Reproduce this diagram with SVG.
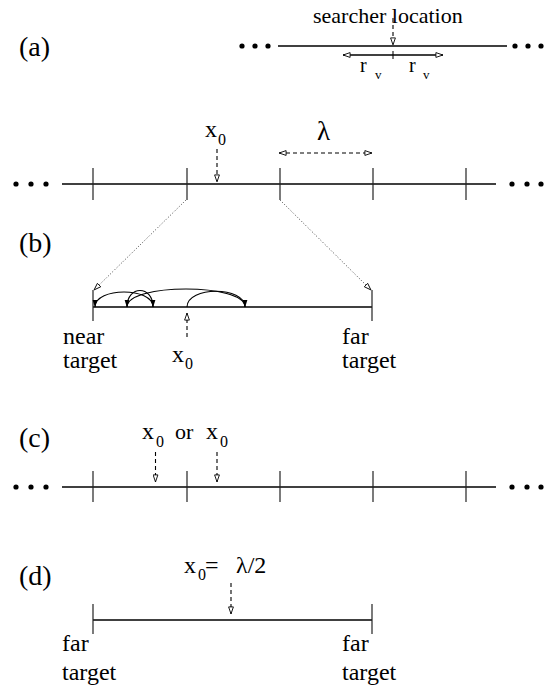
<svg xmlns="http://www.w3.org/2000/svg" width="544" height="685" viewBox="0 0 544 685">
<style>
text{fill:#000;font-family:Liberation Serif,Tinos,DejaVu Serif,Noto Serif,Times,serif}
.lab{font-size:28px}
.big{font-size:24px}
.x{font-size:24px}
.sub{font-size:16px}
.ln{stroke:#000;stroke-width:1.3;fill:none}
.tk{stroke:#222;stroke-width:1.2;fill:none}
.da{stroke:#000;stroke-width:1.1;stroke-dasharray:4 3;fill:none}
.dot{stroke:#444;stroke-width:1;stroke-dasharray:1 2;fill:none}
.arc{stroke:#000;stroke-width:1.1;fill:none}
.d{fill:#000}
</style>
<defs>
<marker id="open" viewBox="0 0 8 6" refX="7.6" refY="3" markerWidth="8" markerHeight="6" markerUnits="userSpaceOnUse" orient="auto-start-reverse">
<path d="M0.5,0.6 L7.5,3 L0.5,5.4 z" fill="#fff" stroke="#000" stroke-width="0.9"/>
</marker>
<marker id="fill" viewBox="0 0 8 6" refX="7.5" refY="3" markerWidth="8" markerHeight="6" markerUnits="userSpaceOnUse" orient="auto">
<path d="M0,0.5 L8,3 L0,5.5 z" fill="#000"/>
</marker>
</defs>

<g id="panel-a">
<text class="lab" x="19" y="56">(a)</text>
<circle class="d" cx="242" cy="46" r="2.6"/><circle class="d" cx="255" cy="46" r="2.6"/><circle class="d" cx="268" cy="46" r="2.6"/>
<circle class="d" cx="515" cy="46" r="2.6"/><circle class="d" cx="528" cy="46" r="2.6"/><circle class="d" cx="541" cy="46" r="2.6"/>
<line class="ln" x1="278" y1="46" x2="507" y2="46"/>
<text x="313" y="23" style="font-size:22px">searcher location</text>
<line class="tk" x1="393" y1="51" x2="393" y2="59"/>
<text x="360" y="72" style="font-size:20px">r</text><text x="375" y="79" style="font-size:13px">v</text>
<text x="409" y="72" style="font-size:20px">r</text><text x="423" y="79" style="font-size:13px">v</text>
</g>

<g id="panel-b-line">
<text class="lab" x="19" y="252">(b)</text>
<circle class="d" cx="16" cy="184" r="2.6"/><circle class="d" cx="31" cy="184" r="2.6"/><circle class="d" cx="46" cy="184" r="2.6"/>
<circle class="d" cx="512" cy="184" r="2.6"/><circle class="d" cx="527" cy="184" r="2.6"/><circle class="d" cx="541" cy="184" r="2.6"/>
<line class="ln" x1="62" y1="184" x2="496" y2="184"/>
<line class="tk" x1="93" y1="168" x2="93" y2="200"/>
<line class="tk" x1="187" y1="168" x2="187" y2="200"/>
<line class="tk" x1="280" y1="168" x2="280" y2="200"/>
<line class="tk" x1="373" y1="168" x2="373" y2="200"/>
<line class="tk" x1="466" y1="168" x2="466" y2="200"/>
<text class="x" x="205" y="137">x</text><text class="sub" x="218" y="145">0</text>
<text x="317" y="140" style="font-size:27px">λ</text>
</g>

<g id="panel-b-zoom">
<line class="ln" x1="93" y1="307" x2="372" y2="307"/>
<line class="tk" x1="93" y1="290" x2="93" y2="321"/>
<line class="tk" x1="372" y1="290" x2="372" y2="321"/>
<text class="big" x="63" y="344">near</text><text class="big" x="63" y="368">target</text>
<text class="x" x="172" y="362">x</text><text class="sub" x="185" y="369">0</text>
<text class="big" x="342" y="344">far</text><text class="big" x="342" y="368">target</text>
</g>

<g id="panel-c">
<text class="lab" x="19" y="447">(c)</text>
<text class="x" x="142" y="439">x</text><text class="sub" x="156" y="447">0</text>
<text x="175" y="439" style="font-size:22px">or</text>
<text class="x" x="206" y="439">x</text><text class="sub" x="220" y="447">0</text>
<circle class="d" cx="16" cy="487" r="2.6"/><circle class="d" cx="31" cy="487" r="2.6"/><circle class="d" cx="46" cy="487" r="2.6"/>
<circle class="d" cx="512" cy="487" r="2.6"/><circle class="d" cx="527" cy="487" r="2.6"/><circle class="d" cx="541" cy="487" r="2.6"/>
<line class="ln" x1="62" y1="487" x2="496" y2="487"/>
<line class="tk" x1="93" y1="471" x2="93" y2="502"/>
<line class="tk" x1="187" y1="471" x2="187" y2="502"/>
<line class="tk" x1="280" y1="471" x2="280" y2="502"/>
<line class="tk" x1="373" y1="471" x2="373" y2="502"/>
<line class="tk" x1="466" y1="471" x2="466" y2="502"/>
</g>

<g id="panel-d">
<text class="lab" x="19" y="585">(d)</text>
<text class="x" x="184" y="573">x</text><text class="sub" x="198" y="580">0</text>
<text class="x" x="205" y="573">=</text>
<text class="x" x="236" y="573">λ/2</text>
<line class="ln" x1="93" y1="620" x2="372" y2="620"/>
<line class="tk" x1="93" y1="604" x2="93" y2="634"/>
<line class="tk" x1="372" y1="604" x2="372" y2="634"/>
<text class="big" x="62" y="651">far</text><text class="big" x="62" y="680">target</text>
<text class="big" x="342" y="651">far</text><text class="big" x="342" y="680">target</text>
</g>

<g id="connectors">
<line class="da" x1="393" y1="18" x2="393" y2="45" marker-end="url(#open)"/>
<line class="ln" x1="343" y1="55" x2="443" y2="55" stroke-width="1" marker-start="url(#open)" marker-end="url(#open)"/>
<line class="da" x1="217" y1="149" x2="217" y2="182" marker-end="url(#open)"/>
<line class="da" x1="279" y1="153" x2="372" y2="153" marker-start="url(#open)" marker-end="url(#open)"/>
<line class="dot" x1="186" y1="200" x2="94" y2="290" marker-end="url(#open)"/>
<line class="dot" x1="280" y1="200" x2="371" y2="290" marker-end="url(#open)"/>
<path class="arc" d="M187,307 C187,286 245,286 245,307" marker-end="url(#fill)"/>
<path class="arc" d="M245,307 C245,283 127,283 127,307" marker-end="url(#fill)"/>
<path class="arc" d="M127,307 C127,285 153,285 153,307" marker-end="url(#fill)"/>
<path class="arc" d="M153,307 C153,287 95,287 95,307" marker-end="url(#fill)"/>
<line class="da" x1="187" y1="337" x2="187" y2="313" marker-end="url(#open)"/>
<line class="da" x1="155.5" y1="452" x2="155.5" y2="482" marker-end="url(#open)"/>
<line class="da" x1="217" y1="452" x2="217" y2="482" marker-end="url(#open)"/>
<line class="da" x1="231" y1="583" x2="231" y2="614" marker-end="url(#open)"/>
</g>
</svg>
